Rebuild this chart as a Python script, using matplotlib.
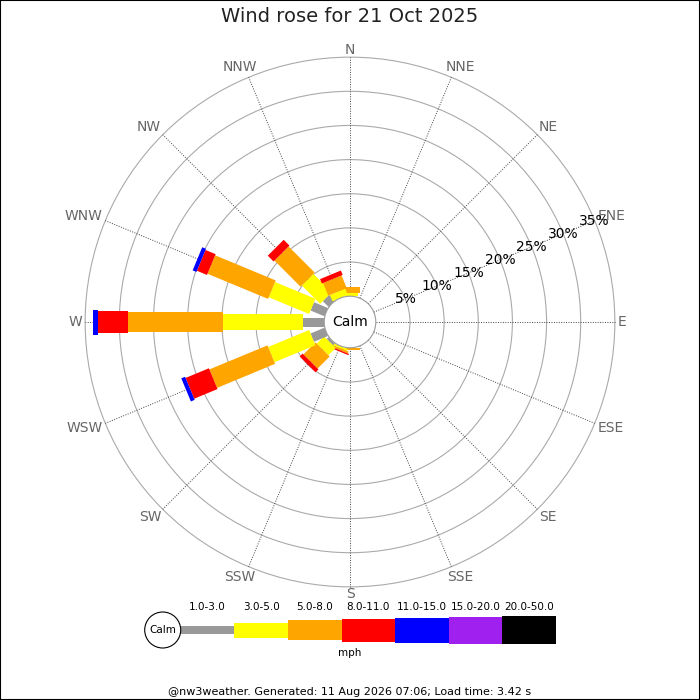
import numpy as np
import matplotlib
matplotlib.use('Agg')
import matplotlib.pyplot as plt
from matplotlib.patches import Polygon, Circle, Rectangle

# 16 compass points, clockwise from north
directions = ['N', 'NNE', 'NE', 'ENE', 'E', 'ESE', 'SE', 'SSE',
              'S', 'SSW', 'SW', 'WSW', 'W', 'WNW', 'NW', 'NNW']
speed_bins = ['1.0-3.0', '3.0-5.0', '5.0-8.0', '8.0-11.0',
              '11.0-15.0', '15.0-20.0', '20.0-50.0']
bin_colors = ['#999999', '#ffff00', '#ffa500', '#ff0000',
              '#0000ff', '#a020f0', '#000000']

# percent of time per direction, per speed bin
freq = {
    'N':   [0.0, 0.4, 0.9, 0.0, 0.0, 0.0, 0.0],
    'S':   [0.0, 0.1, 0.15, 0.0, 0.0, 0.0, 0.0],
    'SSW': [0.0, 0.3, 0.3, 0.2, 0.0, 0.0, 0.0],
    'SW':  [0.4, 1.5, 2.5, 0.6, 0.0, 0.0, 0.0],
    'WSW': [2.2, 6.5, 9.2, 3.7, 0.6, 0.0, 0.0],
    'W':   [3.1, 11.7, 13.9, 4.4, 0.7, 0.0, 0.0],
    'WNW': [2.2, 6.4, 9.6, 1.6, 0.6, 0.0, 0.0],
    'NW':  [1.2, 3.8, 5.4, 1.2, 0.0, 0.0, 0.0],
    'NNW': [0.0, 1.0, 2.0, 0.7, 0.0, 0.0, 0.0],
}
ring_pcts = [5, 10, 15, 20, 25, 30, 35]

title = 'Wind rose for 21 Oct 2025'
footer = '@nw3weather. Generated: 11 Aug 2026 07:06; Load time: 3.42 s'

PX = 6.83            # pixels per percent
CALM_R = 25.8 / PX   # calm circle radius in percent units
bar_w = np.array([9, 16.5, 20, 22.5, 25, 27, 28]) / PX   # bar widths per bin

fig = plt.figure(figsize=(7, 7), dpi=100)
ax = fig.add_axes([0, 0, 1, 1])
ax.set_xlim(-350 / PX, 350 / PX)
ax.set_ylim(-378 / PX, 322 / PX)
ax.axis('off')

# rings
for p in ring_pcts:
    ax.add_patch(Circle((0, 0), CALM_R + p, fill=False, ec='#aaaaaa', lw=0.8, zorder=1))

# spokes and compass labels
outer = CALM_R + ring_pcts[-1]
for i, d in enumerate(directions):
    th = np.deg2rad(i * 22.5)
    u = np.array([np.sin(th), np.cos(th)])
    ax.plot([CALM_R * u[0], outer * u[0]], [CALM_R * u[1], outer * u[1]],
            ls=(0, (1, 1.5)), color='#444444', lw=0.7, zorder=1)
    sx = np.sign(round(u[0], 6))
    sy = np.sign(round(u[1], 6))
    k = i % 4
    if k == 0:          # N, E, S, W
        ha = 'center' if sx == 0 else ('left' if sx > 0 else 'right')
        va = 'center' if sy == 0 else ('bottom' if sy > 0 else 'top')
        off = (2.5 * sx, 0.5 * sy)
    elif k == 2:        # NE, SE, SW, NW
        ha = 'left' if sx > 0 else 'right'
        va = 'bottom' if sy > 0 else 'top'
        off = (1.5 * sx, 1.0 * sy)
    elif i in (1, 7, 9, 15):   # near-vertical
        ha = 'center'
        va = 'bottom' if sy > 0 else 'top'
        off = (9 * sx, 3 * sy)
    else:               # near-horizontal
        ha = 'left' if sx > 0 else 'right'
        va = 'center'
        off = (2.5 * sx, 5 * sy)
    ax.annotate(d, (outer * u[0], outer * u[1]), xytext=off, textcoords='offset pixels',
                ha=ha, va=va, fontsize=10, color='#666666', zorder=5)

# bars
for i, d in enumerate(directions):
    vals = freq.get(d)
    if vals is None:
        continue
    th = np.deg2rad(i * 22.5)
    u = np.array([np.sin(th), np.cos(th)])
    pdir = np.array([u[1], -u[0]])
    cum = CALM_R
    for k, v in enumerate(vals):
        if v <= 0:
            continue
        r0, r1 = cum, cum + v
        hw = bar_w[k] / 2
        pts = [r0 * u + hw * pdir, r1 * u + hw * pdir,
               r1 * u - hw * pdir, r0 * u - hw * pdir]
        ax.add_patch(Polygon(pts, closed=True, fc=bin_colors[k], ec='none', zorder=3))
        cum = r1

# ring labels along ENE
th = np.deg2rad(67.5)
for p in ring_pcts:
    r = CALM_R + p
    ax.text(r * np.sin(th), r * np.cos(th), f'{p}%', ha='center', va='center',
            fontsize=10, color='black', zorder=6)

# calm circle
ax.add_patch(Circle((0, 0), CALM_R, fc='white', ec='#999999', lw=0.8, zorder=4))
ax.text(0, 0, 'Calm', ha='center', va='center', fontsize=10, zorder=5)

# legend
lax = fig.add_axes([140 / 700, 40 / 700, 420 / 700, 60 / 700])
lax.set_xlim(0, 420)
lax.set_ylim(-30, 30)
lax.axis('off')
heights = [8.5, 15, 20, 23, 25, 27, 28]
x0, seg = 40.7, 53.6
for k, lab in enumerate(speed_bins):
    h = heights[k]
    lax.add_patch(Rectangle((x0 + k * seg, -h / 2), seg, h, fc=bin_colors[k], ec='none'))
    lax.text(x0 + (k + 0.5) * seg, 23, lab, ha='center', va='center', fontsize=7.5)
lax.add_patch(Circle((22.7, 0), 18, fc='white', ec='black', lw=0.8, zorder=3))
lax.text(22.7, 0, 'Calm', ha='center', va='center', fontsize=7.5, zorder=4)
lax.text(210, -23, 'mph', ha='center', va='center', fontsize=7.5)

fig.text(0.5, 1 - 17 / 700, title, ha='center', va='center', fontsize=14, color='#222222')
fig.text(0.5, 1 - 692 / 700, footer, ha='center', va='center', fontsize=8)
fig.patches.append(Rectangle((0, 0), 1, 1, transform=fig.transFigure, fill=False,
                             ec='black', lw=1.5))

fig.savefig('out.png', dpi=100)
